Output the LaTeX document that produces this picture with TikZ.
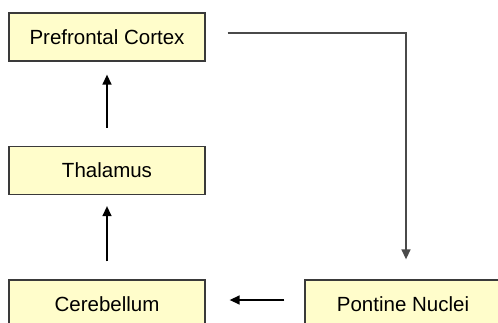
\documentclass[tikz,border=0pt]{standalone}
\usepackage{fontspec}
\setmainfont{Liberation Sans}
\usetikzlibrary{arrows.meta}
\definecolor{boxfill}{HTML}{FFFDCB}
\definecolor{boxline}{HTML}{3A3A3A}
\definecolor{linkgray}{HTML}{4A4A4A}
\tikzset{
  region/.style={draw=boxline, line width=1.3pt, fill=boxfill, minimum width=196pt, minimum height=48pt, inner sep=0pt, font=\fontsize{20.5}{24}\selectfont},
  link/.style={draw=black, line width=1.4pt, -{Triangle[width=9pt,length=10pt]}},
}
\begin{document}
\begin{tikzpicture}[x=1pt,y=-1pt]
\useasboundingbox (0,0) rectangle (498,323);
\clip (0,0) rectangle (498,323);
\fill[white] (0,0) rectangle (498,323);
\node[region] (pfc) at (107,37) {Prefrontal Cortex};
\node[region] (tha) at (107,170.5) {Thalamus};
\node[region] (cer) at (107,304) {Cerebellum};
\node[region] (pon) at (403,304) {Pontine Nuclei};
\draw[link, shorten <=18pt, shorten >=13pt] (tha.north) -- (pfc.south);
\draw[link, shorten <=18pt, shorten >=11pt] (cer.north) -- (tha.south);
\draw[link, draw=linkgray, shorten <=22pt, shorten >=20pt] ([yshift=4pt]pfc.east) -| ([xshift=3pt]pon.north);
\draw[link, shorten <=20pt, shorten >=24pt] ([yshift=4pt]pon.west) -- ([yshift=4pt]cer.east);
\end{tikzpicture}
\end{document}
